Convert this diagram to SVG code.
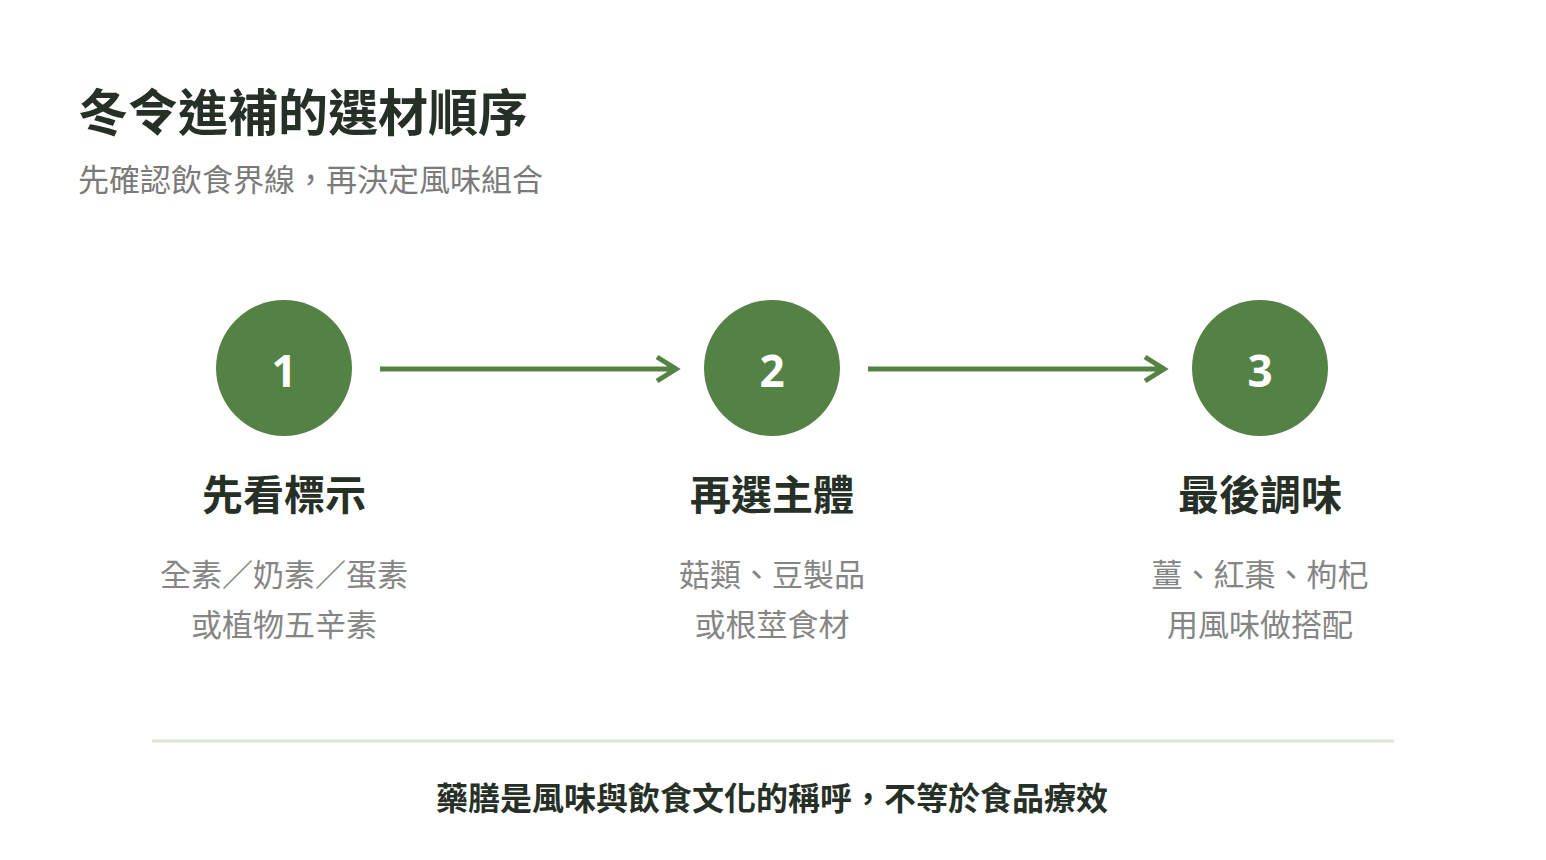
<svg xmlns="http://www.w3.org/2000/svg" width="1546" height="860" viewBox="0 0 1546 860">
<defs>
<style>
text{font-family:"Noto Sans CJK TC","Noto Sans CJK SC",sans-serif}
.t{font-size:50px;font-weight:700;fill:#263026}
.s{font-size:31px;fill:#7a7a7a}
.n{font-size:44px;font-weight:700;fill:#fff;text-anchor:middle;font-family:"Noto Sans",sans-serif}
.l{font-size:41px;font-weight:700;fill:#263026;text-anchor:middle}
.d{font-size:31px;fill:#858585;text-anchor:middle}
.c{fill:#548245}
.a{stroke:#548245;stroke-width:5;fill:none}
</style>
<marker id="h" viewBox="0 0 12 20" refX="10" refY="10" markerWidth="4" markerHeight="5" orient="auto" markerUnits="userSpaceOnUse">
</marker>
</defs>
<rect width="1546" height="860" fill="#fff"/>
<text class="t" x="78" y="131">冬令進補的選材順序</text>
<text class="s" x="78" y="191">先確認飲食界線，再決定風味組合</text>
<g id="connectors">
<path class="a" d="M380 369H676M657 357L676 369L657 381"/>
<path class="a" d="M868 369H1164M1145 357L1164 369L1145 381"/>
</g>
<g id="step1"><circle class="c" cx="284" cy="368" r="68"/><text class="n" x="284" y="387">1</text>
<text class="l" x="284" y="510">先看標示</text><text class="d" x="284" y="586">全素／奶素／蛋素</text><text class="d" x="284" y="636">或植物五辛素</text></g>
<g id="step2"><circle class="c" cx="772" cy="368" r="68"/><text class="n" x="772" y="387">2</text>
<text class="l" x="772" y="510">再選主體</text><text class="d" x="772" y="586">菇類、豆製品</text><text class="d" x="772" y="636">或根莖食材</text></g>
<g id="step3"><circle class="c" cx="1260" cy="368" r="68"/><text class="n" x="1260" y="387">3</text>
<text class="l" x="1260" y="510">最後調味</text><text class="d" x="1260" y="586">薑、紅棗、枸杞</text><text class="d" x="1260" y="636">用風味做搭配</text></g>
<line x1="152" y1="741" x2="1394" y2="741" stroke="#dde5d6" stroke-width="3"/>
<text x="772" y="810" text-anchor="middle" font-size="32" font-weight="700" fill="#263026">藥膳是風味與飲食文化的稱呼，不等於食品療效</text>
</svg>
